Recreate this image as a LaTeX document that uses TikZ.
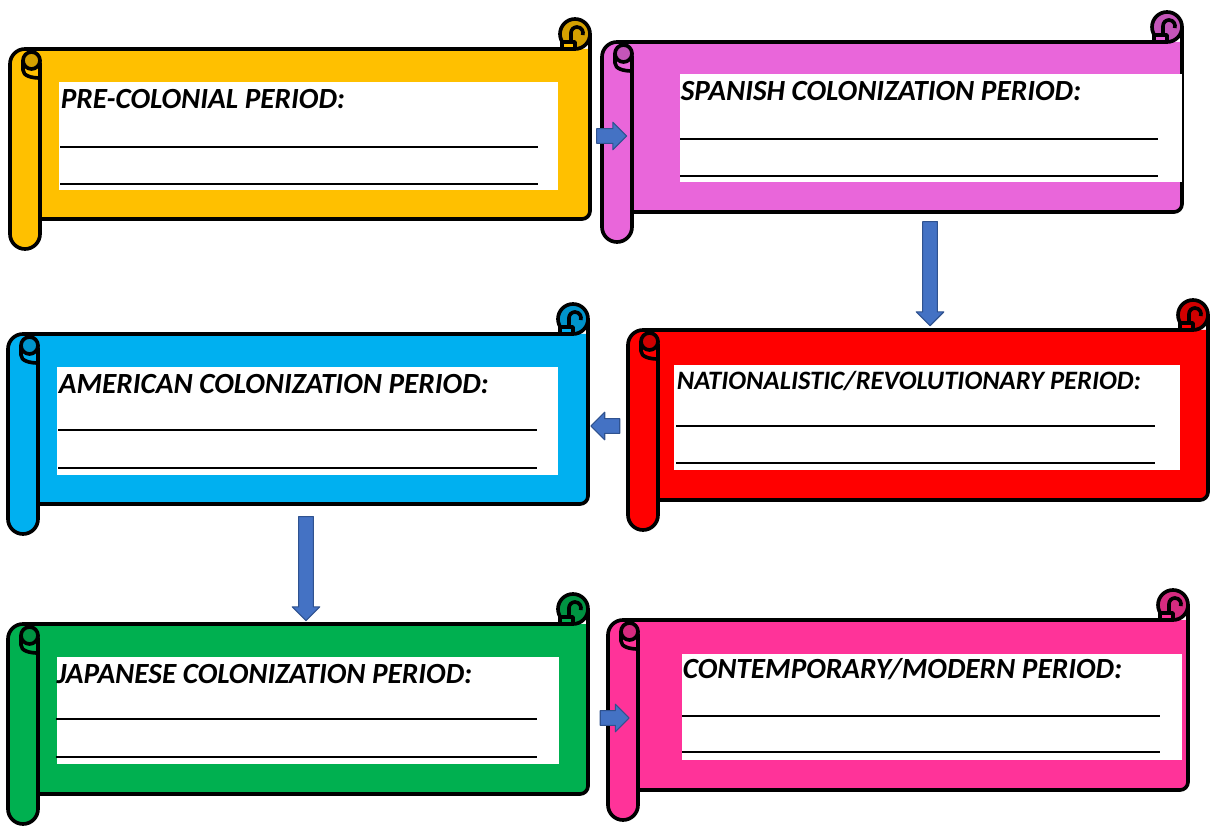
\documentclass[tikz,border=0pt]{standalone}
\usepackage{fontspec}
\setmainfont{Carlito}
\usetikzlibrary{shapes.arrows}
\definecolor{scrollyellow}{HTML}{FFC000}
\definecolor{curlyellow}{HTML}{D4A000}
\definecolor{scrollviolet}{HTML}{E966DA}
\definecolor{curlviolet}{HTML}{C455B8}
\definecolor{scrollred}{HTML}{FF0000}
\definecolor{curlred}{HTML}{D00000}
\definecolor{scrollcyan}{HTML}{00B0F0}
\definecolor{curlcyan}{HTML}{0094CB}
\definecolor{scrollgreen}{HTML}{00B050}
\definecolor{curlgreen}{HTML}{009442}
\definecolor{scrollpink}{HTML}{FF3399}
\definecolor{curlpink}{HTML}{D62B80}
\definecolor{arrowblue}{HTML}{4472C4}
\definecolor{arrowedge}{HTML}{2F528F}

\begin{document}
\begin{tikzpicture}[x=0.025cm,y=-0.025cm,line width=2.6pt,line join=round,
  title/.style={font=\fontsize{20.8}{24}\selectfont\bfseries\itshape,inner sep=0pt,anchor=base west},
  blank/.style={fill=white,inner sep=0pt,anchor=north west},
  rule/.style={line width=1.1pt},
  flow/.style={single arrow,fill=arrowblue,draw=arrowedge,line width=.8pt,inner xsep=0pt,
    inner ysep=.17cm,single arrow head extend=.16cm,single arrow tip angle=90},
  pics/scroll/.style 2 args={code={
    % sheet
    \fill[#1] (15,30) -- (580,30) -- (580,192) arc[start angle=0,end angle=90,radius=8] -- (15,200) -- cycle;
    \draw (565,30) -- (15,30);
    \draw (580,15) -- (580,192) arc[start angle=0,end angle=90,radius=8] -- (30,200);
    % curl top right
    \filldraw[fill=#2] (565,15) circle[radius=15];
    \filldraw[fill=#1] (552,23) rectangle (565,30);
    \draw (561,23) -- (561,14) arc[start angle=180,end angle=380,radius=6];
    % roll on the left
    \filldraw[fill=#1] (0,45) arc[start angle=180,end angle=360,radius=15] -- (30,215)
      arc[start angle=0,end angle=180,radius=15] -- cycle;
    \filldraw[fill=#2] (21.5,41.5) circle[radius=8.5];
    \draw (13,41.5) -- (13,51) .. controls (13,57) and (22,59) .. (30,59);
  }}]
\useasboundingbox (0,0) rectangle (1216,832);

% pre-colonial
\pic at (10,19) {scroll={scrollyellow}{curlyellow}};
\node[blank,minimum width=12.48cm,minimum height=2.7cm] (precolonial) at (57,80) {};
\node[title] (precolonialtitle) at (59,109) {PRE-COLONIAL PERIOD:};
\draw[rule] (60,147) -- (538,147);
\draw[rule] (60,184) -- (538,184);

% spanish
\pic at (602,12) {scroll={scrollviolet}{curlviolet}};
\node[blank,minimum width=12.55cm,minimum height=2.7cm] (spanish) at (678,72) {};
\node[title] (spanishtitle) at (679,101) {SPANISH COLONIZATION PERIOD:};
\draw[rule] (680,139) -- (1158,139);
\draw[rule] (680,176) -- (1158,176);

% nationalistic
\pic at (628,300) {scroll={scrollred}{curlred}};
\node[blank,minimum width=12.65cm,minimum height=2.63cm] (nationalist) at (672,363) {};
\node[title,font=\fontsize{18.9}{22}\selectfont\bfseries\itshape] (nationalisttitle) at (675,390) {NATIONALISTIC/REVOLUTIONARY PERIOD:};
\draw[rule] (676,426) -- (1155,426);
\draw[rule] (676,463) -- (1155,463);

% american
\pic at (8,304) {scroll={scrollcyan}{curlcyan}};
\node[blank,minimum width=12.53cm,minimum height=2.7cm] (american) at (55,365) {};
\node[title] (americantitle) at (57,394) {AMERICAN COLONIZATION PERIOD:};
\draw[rule] (58,430) -- (537,430);
\draw[rule] (58,468) -- (537,468);

% japanese
\pic at (8,594) {scroll={scrollgreen}{curlgreen}};
\node[blank,minimum width=12.55cm,minimum height=2.68cm] (japanese) at (55,655) {};
\node[title] (japanesetitle) at (55,683) {JAPANESE COLONIZATION PERIOD:};
\draw[rule] (56,719) -- (537,719);
\draw[rule] (56,757) -- (537,757);

% contemporary
\pic at (608,590) {scroll={scrollpink}{curlpink}};
\node[blank,minimum width=12.5cm,minimum height=2.65cm] (modern) at (680,652) {};
\node[title] (moderntitle) at (681,678) {CONTEMPORARY/MODERN PERIOD:};
\draw[rule] (682,716) -- (1160,716);
\draw[rule] (682,752) -- (1160,752);

% arrows between periods
\node[flow,minimum height=.75cm] (toSpanish) at (608,136) {};
\node[flow,minimum height=2.6cm,rotate=-90] (toNationalist) at (930,270) {};
\node[flow,minimum height=.72cm,rotate=180] (toAmerican) at (609,426) {};
\node[flow,minimum height=2.6cm,rotate=-90] (toJapanese) at (306,565) {};
\node[flow,minimum height=.72cm] (toModern) at (611,718) {};

\end{tikzpicture}
\end{document}
